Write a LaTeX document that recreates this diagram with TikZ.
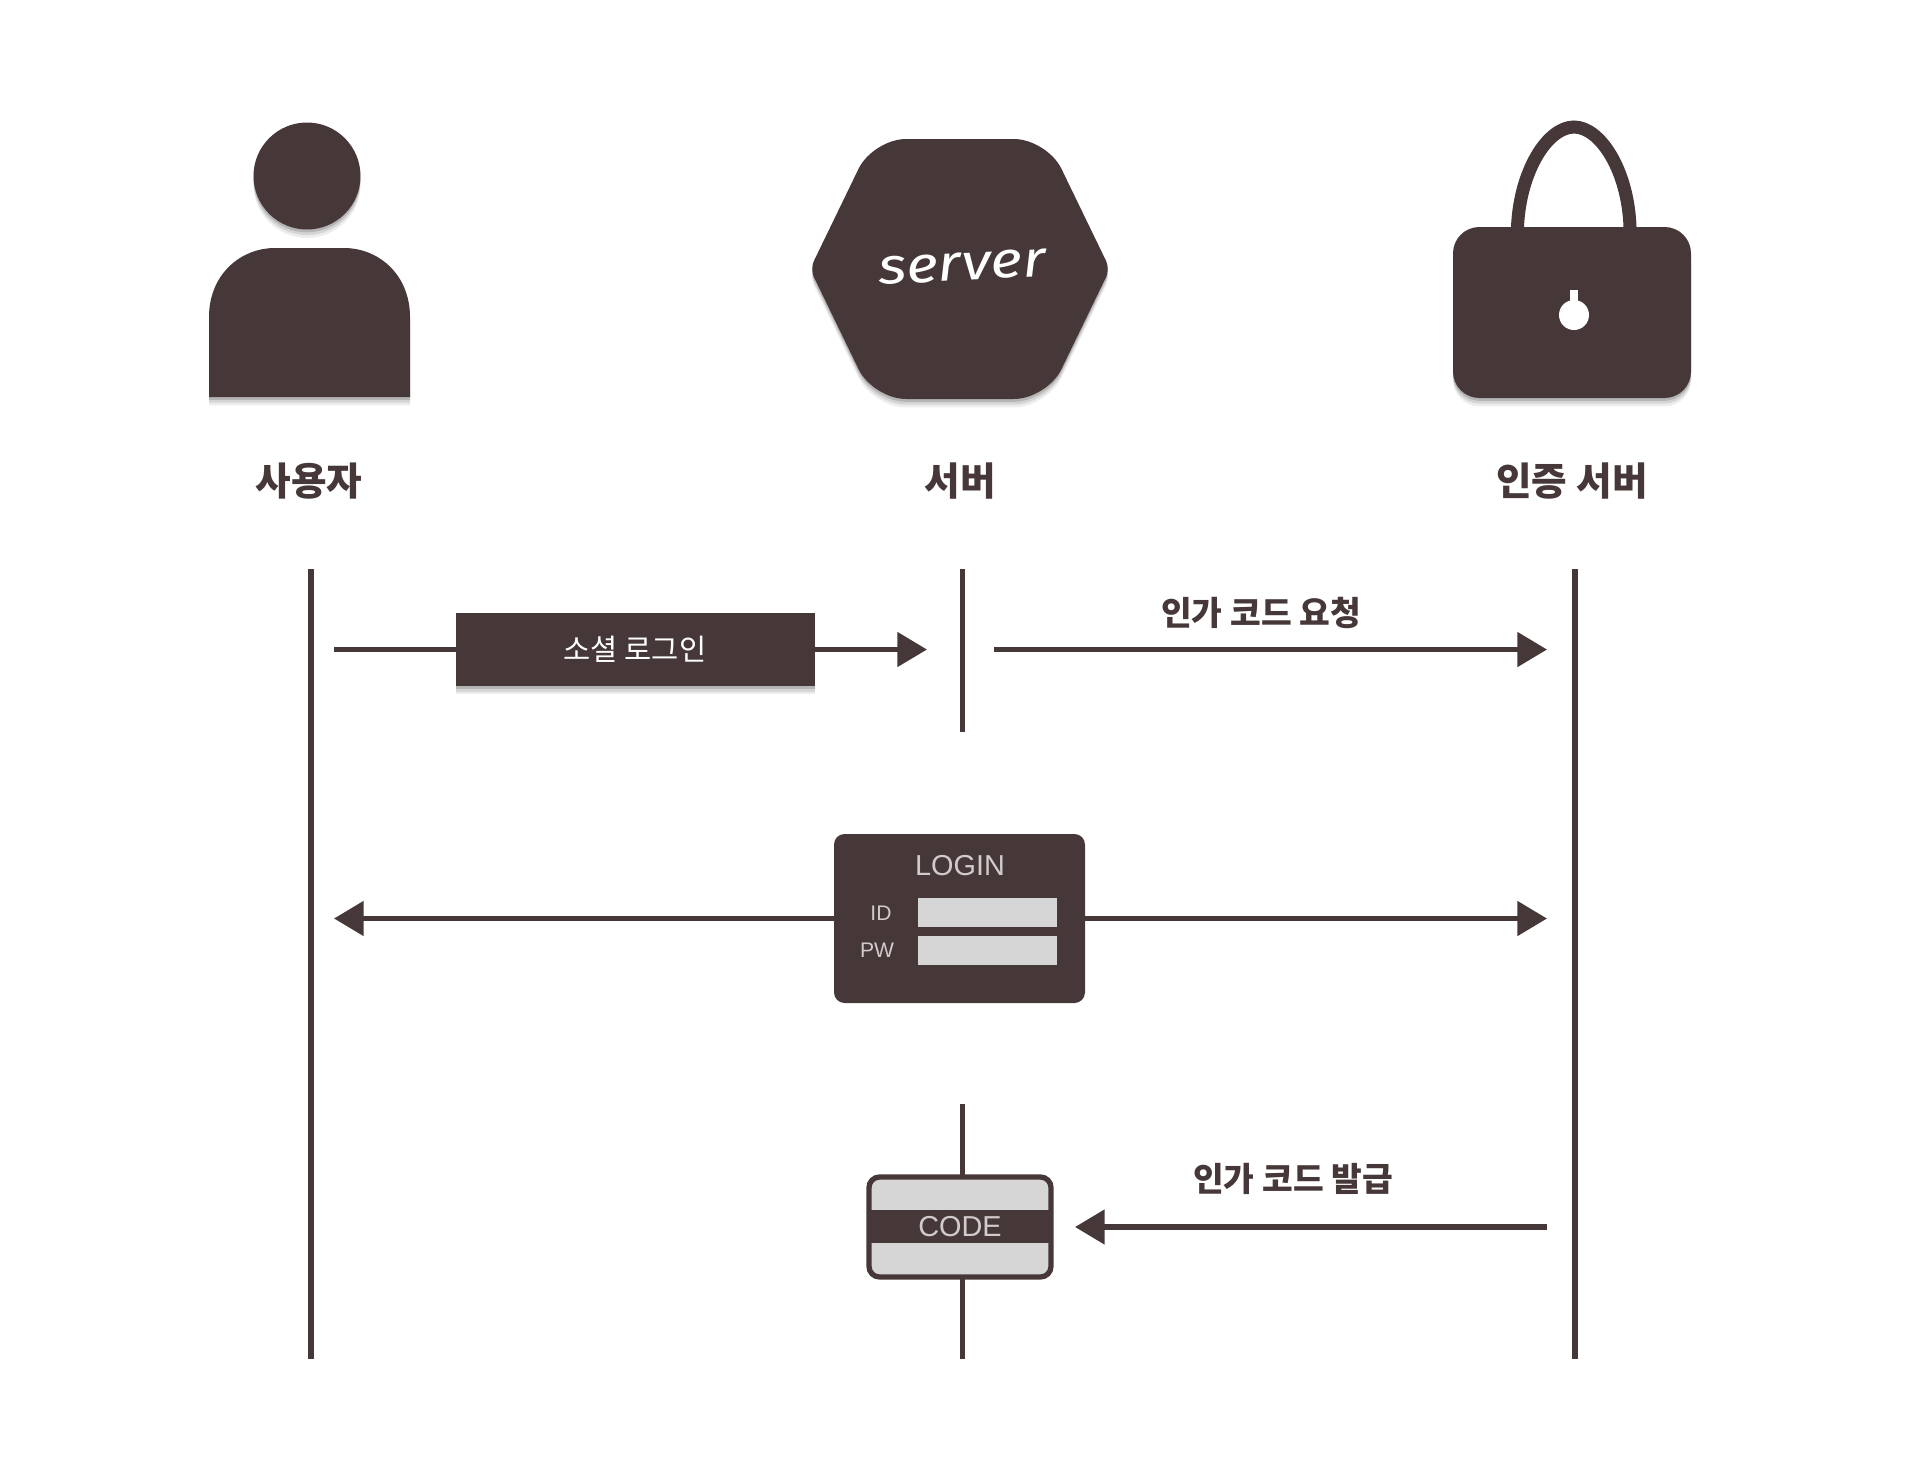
\documentclass[tikz,border=0pt]{standalone}
\usepackage{fontspec}
\newfontfamily\cjk{Noto Sans CJK KR}
\newfontfamily\wordfont{Fira Sans}
\setsansfont{Liberation Sans}
\usetikzlibrary{arrows.meta,shadows}
\definecolor{bark}{HTML}{463838}
\definecolor{fieldgrey}{HTML}{D6D6D6}
\definecolor{paletext}{HTML}{D2CBCB}
\begin{document}
\begin{tikzpicture}
[x=0.01cm, y=-0.01cm, font=\cjk, outer sep=0pt]
\tikzstyle{softshadow}=[drop shadow={shadow xshift=0pt, shadow yshift=-2.4pt, opacity=.07, fill=black}, drop shadow={shadow xshift=0pt, shadow yshift=-1.6pt, opacity=.1, fill=black}, drop shadow={shadow xshift=0pt, shadow yshift=-.8pt, opacity=.15, fill=black}]
\tikzstyle{icon}=[fill=bark, draw=none, softshadow]
\tikzstyle{lifeline}=[draw=bark, line width=1.5pt]
\tikzstyle{flow}=[draw=bark, line width=1.5pt, -{Triangle[length=8.4pt, width=9.6pt]}]
\tikzstyle{title}=[font=\cjk\fontsize{11}{13}\bfseries, text=bark, inner sep=0pt]
\tikzstyle{caption}=[font=\cjk\fontsize{9.5}{11}\bfseries, text=bark, inner sep=0pt]
\tikzstyle{field}=[fill=fieldgrey, inner sep=0pt, minimum width=139*0.01cm, minimum height=29*0.01cm]
\tikzstyle{formtext}=[font=\sffamily\fontsize{6}{7}\selectfont, text=paletext, inner sep=0pt]

\fill[icon]	(307,176) circle (53.5);
\fill[icon]	(209,397) -- (209,317) .. controls (209,275) and (240,248) .. (275,248) -- (344,248) .. controls (379,248) and (410,275) .. (410,317) -- (410,397) -- cycle;

\fill[icon]	[rounded corners=9.4pt] (873,139) -- (1047,139) [rounded corners=2.5pt] -- (1110,269) [rounded corners=9.4pt] -- (1047,399) -- (873,399) [rounded corners=2.5pt] -- (810,269) [rounded corners=9.4pt] -- cycle;
\node	(serverword)	at (962,267) [rotate=3, xscale=1.2, text=white, inner sep=0pt, font=\wordfont\itshape\fontsize{14.5}{16}\selectfont]{server};

\draw[draw=bark, line width=3.7pt]	(1517.5,232) -- (1517.5,227) .. controls (1520,170) and (1548,127) .. (1574,127) .. controls (1600,127) and (1628,170) .. (1630,227) -- (1630,232);
\fill[icon]	[rounded corners=7.5pt] (1453,227) rectangle (1691,398);
\fill[white]	(1574,315) circle (15);
\fill[white]	(1570,290) rectangle (1578,305);

\node[title]	(userLabel)	at (309,481) {사용자};
\node[title]	(serverLabel)	at (960,481) {서버};
\node[title]	(authLabel)	at (1572,481) {인증 서버};

\coordinate	(userTop)	at (311,569);
\coordinate	(userEnd)	at (311,1359);
\coordinate	(serverTop)	at (962.5,569);
\coordinate	(serverMid)	at (962.5,732);
\coordinate	(serverLow)	at (962.5,1104);
\coordinate	(serverEnd)	at (962.5,1359);
\coordinate	(authTop)	at (1575,569);
\coordinate	(authEnd)	at (1575,1359);

\draw[lifeline]	(userTop) -- (userEnd);
\draw[lifeline]	(serverTop) -- (serverMid);
\draw[lifeline]	(serverLow) -- (serverEnd);
\draw[lifeline]	(authTop) -- (authEnd);

\coordinate	(socialFrom)	at (334,649.5);
\coordinate	(socialTo)	at (927,649.5);
\coordinate	(requestFrom)	at (994,649.5);
\coordinate	(requestTo)	at (1547,649.5);
\coordinate	(loginLeft)	at (334,918.5);
\coordinate	(loginRight)	at (1547,918.5);
\coordinate	(issueFrom)	at (1547,1227);
\coordinate	(issueTo)	at (1075,1227);

\node	(social)	at (635,649.5) [fill=bark, softshadow, text=white, inner sep=0pt, minimum width=359*0.01cm, minimum height=73*0.01cm, font=\cjk\fontsize{8.4}{10}\selectfont]{소셜 로그인};
\node	(login)	at (959.5,918.5) [fill=bark, rounded corners=3pt, inner sep=0pt, minimum width=251*0.01cm, minimum height=169*0.01cm]{};
\node[formtext]	(loginTitle)	at (960,866) [font=\sffamily\fontsize{8.2}{9}\selectfont]{LOGIN};
\node[field]	(idField)	at (987.5,912.5) {};
\node[field]	(pwField)	at (987.5,950.5) {};
\node[formtext]	(idText)	at (881,913) {ID};
\node[formtext]	(pwText)	at (877,950) {PW};

\node	(code)	at (960,1227) [draw=bark, fill=fieldgrey, line width=1.5pt, rounded corners=3pt, inner sep=0pt, minimum width=182*0.01cm, minimum height=100*0.01cm]{};
\node	(codeBand)	at (960,1226.5) [fill=bark, inner sep=0pt, minimum width=182*0.01cm, minimum height=33*0.01cm, text=paletext, font=\sffamily\fontsize{8.2}{9}\selectfont]{CODE};

\draw[draw=bark, line width=1.5pt]	(socialFrom) -- (social);
\draw[flow]	(social) -- (socialTo);
\draw[flow]	(requestFrom) -- (requestTo);
\draw[flow]	(login) -- (loginLeft);
\draw[flow]	(login) -- (loginRight);
\draw[flow]	(issueFrom) -- (issueTo);

\node[caption]	(requestText)	at (1261,613) {인가 코드 요청};
\node[caption]	(issueText)	at (1293,1179) {인가 코드 발급};

\useasboundingbox (0,0) rectangle (1920,1466);
\end{tikzpicture}
\end{document}
